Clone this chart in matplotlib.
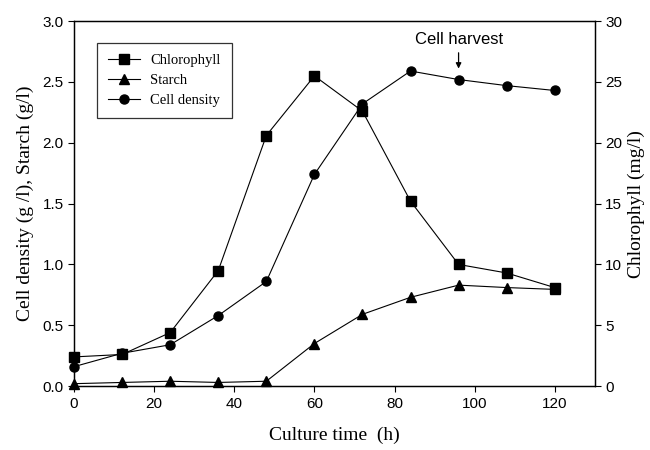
import matplotlib
matplotlib.use("Agg")
import matplotlib.pyplot as plt

# culture time (h)
hours = [0, 12, 24, 36, 48, 60, 72, 84, 96, 108, 120]
# chlorophyll (mg/l), right axis
chlorophyll = [2.4, 2.6, 4.4, 9.5, 20.6, 25.5, 22.6, 15.2, 10.0, 9.3, 8.1]
# starch (g/l), left axis
starch = [0.02, 0.03, 0.04, 0.03, 0.04, 0.35, 0.59, 0.73, 0.83, 0.81, 0.795]
# cell density (g/l), left axis
cell_density = [0.16, 0.27, 0.34, 0.58, 0.86, 1.74, 2.32, 2.59, 2.52, 2.47, 2.43]

serif = "Liberation Serif"
sans = "Liberation Sans"

fig = plt.figure(figsize=(6.5, 4.5), dpi=100)
ax = fig.add_axes([0.114, 0.142, 0.801, 0.811])
ax2 = ax.twinx()

lw = 0.8
(l1,) = ax2.plot(hours, chlorophyll, color="black", lw=lw, marker="s", ms=6.5, label="Chlorophyll")
(l2,) = ax.plot(hours, starch, color="black", lw=lw, marker="^", ms=7, label="Starch")
(l3,) = ax.plot(hours, cell_density, color="black", lw=lw, marker="o", ms=6.5, label="Cell density")
for l in (l1, l2, l3):
    l.set_clip_on(False)

ax.set_xlim(0, 130)
ax.set_ylim(0, 3.0)
ax2.set_ylim(0, 30)
ax.set_xticks([0, 20, 40, 60, 80, 100, 120])
ax.set_yticks([0, 0.5, 1.0, 1.5, 2.0, 2.5, 3.0])
ax.set_yticklabels([f"{v:.1f}" for v in ax.get_yticks()])
ax2.set_yticks([0, 5, 10, 15, 20, 25, 30])

for a in (ax, ax2):
    a.tick_params(direction="out", length=4, width=0.8, labelsize=11)
    for lab in a.get_xticklabels() + a.get_yticklabels():
        lab.set_fontfamily(sans)
    for s in a.spines.values():
        s.set_linewidth(0.9)

ax.set_xlabel("Culture time  (h)", fontfamily=serif, fontsize=14, labelpad=12)
ax.set_ylabel("Cell density (g /l), Starch (g/l)", fontfamily=serif, fontsize=14, labelpad=6)
ax2.set_ylabel("Chlorophyll (mg/l)", fontfamily=serif, fontsize=14, labelpad=4)

leg = ax.legend(handles=[l1, l2, l3], loc="upper left", bbox_to_anchor=(0.044, 0.94),
                prop={"family": serif, "size": 10.5}, frameon=True, fancybox=False,
                edgecolor="black", handlelength=2.2, handletextpad=0.7, borderpad=0.75,
                labelspacing=0.45, borderaxespad=0)
leg.get_frame().set_linewidth(0.9)

ax.text(96, 2.79, "Cell harvest", ha="center", va="bottom", fontfamily=sans, fontsize=12)
ax.annotate("", xy=(96, 2.61), xytext=(96, 2.74),
            arrowprops=dict(arrowstyle="-|>", color="black", lw=0.9, mutation_scale=8,
                            shrinkA=0, shrinkB=0))

fig.savefig("out.png", dpi=100)
